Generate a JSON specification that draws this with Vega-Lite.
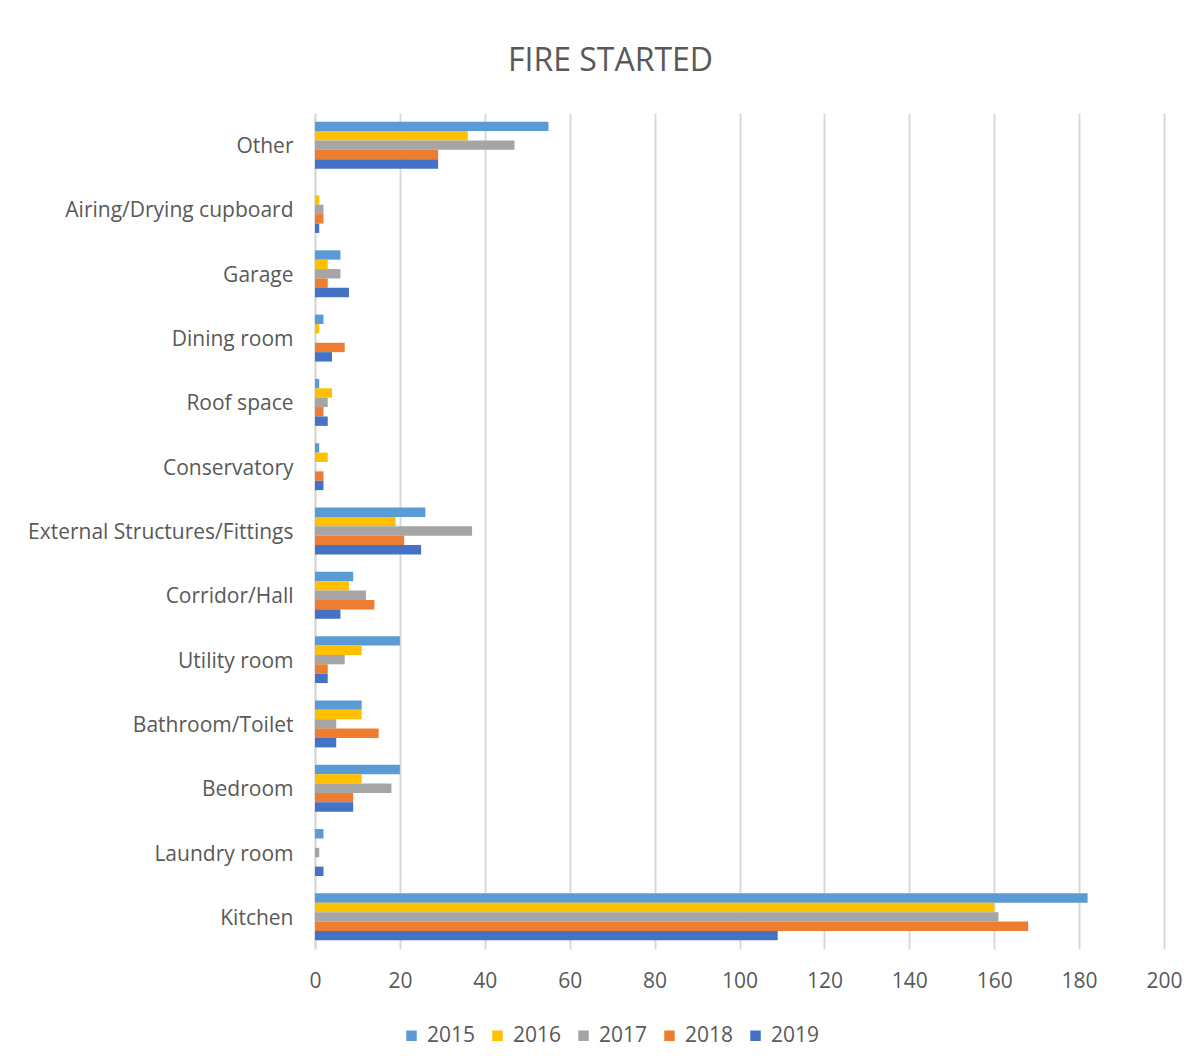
{
  "$schema": "https://vega.github.io/schema/vega-lite/v6.json",
  "width": 849,
  "height": 836,
  "autosize": {"type": "none"},
  "padding": {"left": 315, "top": 113, "right": 36, "bottom": 115},
  "background": "white",
  "title": {
    "text": "FIRE STARTED",
    "font": "Open Sans",
    "fontSize": 32,
    "fontWeight": "normal",
    "color": "#595959",
    "anchor": "middle",
    "frame": "group",
    "dx": -129,
    "offset": 35
  },
  "data": {
    "values": [
      {"location": "Other", "year": "2015", "count": 55},
      {"location": "Other", "year": "2016", "count": 36},
      {"location": "Other", "year": "2017", "count": 47},
      {"location": "Other", "year": "2018", "count": 29},
      {"location": "Other", "year": "2019", "count": 29},
      {"location": "Airing/Drying cupboard", "year": "2015", "count": 0},
      {"location": "Airing/Drying cupboard", "year": "2016", "count": 1},
      {"location": "Airing/Drying cupboard", "year": "2017", "count": 2},
      {"location": "Airing/Drying cupboard", "year": "2018", "count": 2},
      {"location": "Airing/Drying cupboard", "year": "2019", "count": 1},
      {"location": "Garage", "year": "2015", "count": 6},
      {"location": "Garage", "year": "2016", "count": 3},
      {"location": "Garage", "year": "2017", "count": 6},
      {"location": "Garage", "year": "2018", "count": 3},
      {"location": "Garage", "year": "2019", "count": 8},
      {"location": "Dining room", "year": "2015", "count": 2},
      {"location": "Dining room", "year": "2016", "count": 1},
      {"location": "Dining room", "year": "2017", "count": 0},
      {"location": "Dining room", "year": "2018", "count": 7},
      {"location": "Dining room", "year": "2019", "count": 4},
      {"location": "Roof space", "year": "2015", "count": 1},
      {"location": "Roof space", "year": "2016", "count": 4},
      {"location": "Roof space", "year": "2017", "count": 3},
      {"location": "Roof space", "year": "2018", "count": 2},
      {"location": "Roof space", "year": "2019", "count": 3},
      {"location": "Conservatory", "year": "2015", "count": 1},
      {"location": "Conservatory", "year": "2016", "count": 3},
      {"location": "Conservatory", "year": "2017", "count": 0},
      {"location": "Conservatory", "year": "2018", "count": 2},
      {"location": "Conservatory", "year": "2019", "count": 2},
      {"location": "External Structures/Fittings", "year": "2015", "count": 26},
      {"location": "External Structures/Fittings", "year": "2016", "count": 19},
      {"location": "External Structures/Fittings", "year": "2017", "count": 37},
      {"location": "External Structures/Fittings", "year": "2018", "count": 21},
      {"location": "External Structures/Fittings", "year": "2019", "count": 25},
      {"location": "Corridor/Hall", "year": "2015", "count": 9},
      {"location": "Corridor/Hall", "year": "2016", "count": 8},
      {"location": "Corridor/Hall", "year": "2017", "count": 12},
      {"location": "Corridor/Hall", "year": "2018", "count": 14},
      {"location": "Corridor/Hall", "year": "2019", "count": 6},
      {"location": "Utility room", "year": "2015", "count": 20},
      {"location": "Utility room", "year": "2016", "count": 11},
      {"location": "Utility room", "year": "2017", "count": 7},
      {"location": "Utility room", "year": "2018", "count": 3},
      {"location": "Utility room", "year": "2019", "count": 3},
      {"location": "Bathroom/Toilet", "year": "2015", "count": 11},
      {"location": "Bathroom/Toilet", "year": "2016", "count": 11},
      {"location": "Bathroom/Toilet", "year": "2017", "count": 5},
      {"location": "Bathroom/Toilet", "year": "2018", "count": 15},
      {"location": "Bathroom/Toilet", "year": "2019", "count": 5},
      {"location": "Bedroom", "year": "2015", "count": 20},
      {"location": "Bedroom", "year": "2016", "count": 11},
      {"location": "Bedroom", "year": "2017", "count": 18},
      {"location": "Bedroom", "year": "2018", "count": 9},
      {"location": "Bedroom", "year": "2019", "count": 9},
      {"location": "Laundry room", "year": "2015", "count": 2},
      {"location": "Laundry room", "year": "2016", "count": 0},
      {"location": "Laundry room", "year": "2017", "count": 1},
      {"location": "Laundry room", "year": "2018", "count": 0},
      {"location": "Laundry room", "year": "2019", "count": 2},
      {"location": "Kitchen", "year": "2015", "count": 182},
      {"location": "Kitchen", "year": "2016", "count": 160},
      {"location": "Kitchen", "year": "2017", "count": 161},
      {"location": "Kitchen", "year": "2018", "count": 168},
      {"location": "Kitchen", "year": "2019", "count": 109}
    ]
  },
  "mark": {"type": "bar", "cornerRadius": 0},
  "encoding": {
    "y": {
      "field": "location",
      "type": "nominal",
      "sort": ["Other", "Airing/Drying cupboard", "Garage", "Dining room", "Roof space", "Conservatory", "External Structures/Fittings", "Corridor/Hall", "Utility room", "Bathroom/Toilet", "Bedroom", "Laundry room", "Kitchen"],
      "scale": {"paddingInner": 0.27, "paddingOuter": 0.135},
      "axis": {
        "title": null,
        "domain": true,
        "domainColor": "#d9d9d9",
        "domainWidth": 2,
        "ticks": false,
        "labelPadding": 22,
        "labelOffset": 2,
        "labelFont": "Open Sans",
        "labelFontSize": 21,
        "labelColor": "#595959",
        "labelLimit": 400
      }
    },
    "yOffset": {"field": "year", "type": "nominal", "sort": ["2015", "2016", "2017", "2018", "2019"]},
    "x": {
      "field": "count",
      "type": "quantitative",
      "scale": {"domain": [0, 200], "nice": false},
      "axis": {
        "title": null,
        "values": [0, 20, 40, 60, 80, 100, 120, 140, 160, 180, 200],
        "domain": false,
        "ticks": false,
        "grid": true,
        "gridColor": "#d9d9d9",
        "gridWidth": 2,
        "labelFlush": false,
        "labelPadding": 21,
        "labelFont": "Open Sans",
        "labelFontSize": 21,
        "labelColor": "#595959"
      }
    },
    "color": {
      "field": "year",
      "type": "nominal",
      "scale": {
        "domain": ["2015", "2016", "2017", "2018", "2019"],
        "range": ["#5B9BD5", "#FFC000", "#A5A5A5", "#ED7D31", "#4472C4"]
      },
      "legend": {
        "title": null,
        "orient": "none",
        "direction": "horizontal",
        "columns": 5,
        "legendX": 86,
        "legendY": 912,
        "symbolType": "square",
        "symbolSize": 110,
        "symbolStrokeWidth": 0,
        "labelFont": "Open Sans",
        "labelFontSize": 21,
        "labelColor": "#595959",
        "labelOffset": 5,
        "columnPadding": 11
      }
    }
  },
  "config": {
    "view": {"stroke": null}
  }
}
